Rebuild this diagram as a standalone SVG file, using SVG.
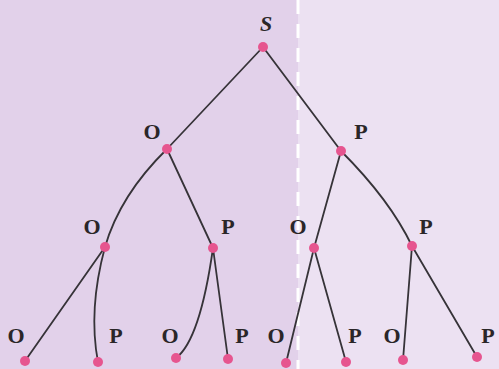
<svg xmlns="http://www.w3.org/2000/svg" width="499" height="369" viewBox="0 0 499 369">
<defs>
<style>
.e{fill:none;stroke:#363338;stroke-width:1.8;stroke-linecap:round}
.d{fill:#e6558f}
.t{font-family:"Liberation Serif","Times New Roman",serif;font-weight:bold;font-size:22px;fill:#2a2628;text-anchor:middle}
</style>
</defs>
<rect x="0" y="0" width="298" height="369" fill="#e2d1ea"/>
<rect x="298" y="0" width="201" height="369" fill="#ece1f2"/>
<line x1="298" y1="0" x2="298" y2="369" stroke="#ffffff" stroke-width="3" stroke-dasharray="14 10"/>
<g id="connectors">
<path class="e" d="M263,47 L167,149"/>
<path class="e" d="M263,47 L341,151"/>
<path class="e" d="M167,149 Q120,195 105,247"/>
<path class="e" d="M167,149 L213,248"/>
<path class="e" d="M341,151 L314,248"/>
<path class="e" d="M341,151 Q390,200 412,246"/>
<path class="e" d="M105,247 L25,361"/>
<path class="e" d="M105,247 Q88,310 98,362"/>
<path class="e" d="M213,248 Q200,340 176,358"/>
<path class="e" d="M213,248 L228,359"/>
<path class="e" d="M314,248 L286,363"/>
<path class="e" d="M314,248 L346,362"/>
<path class="e" d="M412,246 L403,360"/>
<path class="e" d="M412,246 L477,357"/>
</g>
<g id="n-S"><circle class="d" cx="263" cy="47" r="5"/><text class="t" x="266" y="31" font-style="italic">S</text></g>
<g id="n-O1"><circle class="d" cx="167" cy="149" r="5"/><text class="t" x="152" y="139">O</text></g>
<g id="n-P1"><circle class="d" cx="341" cy="151" r="5"/><text class="t" x="361" y="139">P</text></g>
<g id="n-O2"><circle class="d" cx="105" cy="247" r="5"/><text class="t" x="92" y="234">O</text></g>
<g id="n-P2"><circle class="d" cx="213" cy="248" r="5"/><text class="t" x="228" y="234">P</text></g>
<g id="n-O3"><circle class="d" cx="314" cy="248" r="5"/><text class="t" x="298" y="234">O</text></g>
<g id="n-P3"><circle class="d" cx="412" cy="246" r="5"/><text class="t" x="426" y="234">P</text></g>
<g id="n-L1"><circle class="d" cx="25" cy="361" r="5"/><text class="t" x="16" y="343">O</text></g>
<g id="n-L2"><circle class="d" cx="98" cy="362" r="5"/><text class="t" x="116" y="343">P</text></g>
<g id="n-L3"><circle class="d" cx="176" cy="358" r="5"/><text class="t" x="170" y="343">O</text></g>
<g id="n-L4"><circle class="d" cx="228" cy="359" r="5"/><text class="t" x="242" y="343">P</text></g>
<g id="n-L5"><circle class="d" cx="286" cy="363" r="5"/><text class="t" x="276" y="343">O</text></g>
<g id="n-L6"><circle class="d" cx="346" cy="362" r="5"/><text class="t" x="355" y="343">P</text></g>
<g id="n-L7"><circle class="d" cx="403" cy="360" r="5"/><text class="t" x="392" y="343">O</text></g>
<g id="n-L8"><circle class="d" cx="477" cy="357" r="5"/><text class="t" x="488" y="343">P</text></g>
</svg>
